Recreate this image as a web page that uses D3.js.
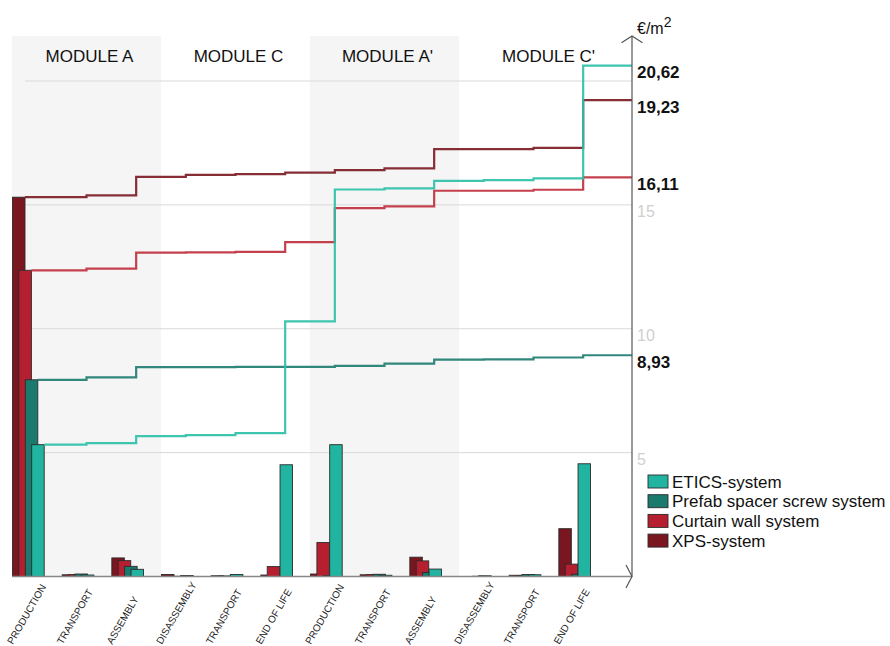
<!DOCTYPE html>
<html><head><meta charset="utf-8">
<script src="https://cdn.jsdelivr.net/npm/d3@7"></script>
<style>body{margin:0;background:#fff} svg{display:block;font-family:"Liberation Sans",Arial,sans-serif}</style>
</head><body><svg id="c" width="890" height="646"></svg>
<script>
const categories = ["PRODUCTION","TRANSPORT","ASSEMBLY","DISASSEMBLY","TRANSPORT","END OF LIFE","PRODUCTION","TRANSPORT","ASSEMBLY","DISASSEMBLY","TRANSPORT","END OF LIFE"];
const modules = ["MODULE A","MODULE C","MODULE A'","MODULE C'"];
const seriesNames = ["XPS-system","Curtain wall system","Prefab spacer screw system","ETICS-system"];
const xpsValues     = [15.31, 0.07, 0.75, 0.08, 0.03, 0.06, 0.10, 0.07, 0.78, 0.00, 0.05, 1.93];
const curtainValues = [12.36, 0.07, 0.64, 0.01, 0.02, 0.40, 1.37, 0.07, 0.63, 0.00, 0.04, 0.50];
const prefabValues  = [7.94, 0.10, 0.41, 0.00, 0.01, 0.00, 0.04, 0.09, 0.16, 0.01, 0.08, 0.09];
const eticsValues   = [5.32, 0.06, 0.29, 0.04, 0.08, 4.51, 5.32, 0.05, 0.30, 0.03, 0.07, 4.55];
const yTickValues = [5, 10, 15];
const gridValues = [5, 10, 15, 20];
const unitLabel = "€/m";

const seriesValues = [xpsValues, curtainValues, prefabValues, eticsValues];
const barColors  = ["#7a1620", "#b61f2f", "#1a7a6e", "#21b5a1"];
const lineColors = ["#7d1b25", "#c0303e", "#1f7d71", "#2cc0a9"];

const svg = d3.select("#c");
const x = d3.scaleBand().domain(d3.range(categories.length)).range([12, 608]).padding(0);
const bw = x.bandwidth();
const y = d3.scaleLinear().domain([0, 20]).range([576.5, 81]);
const axisX = 632, topY = 36;

// module bands
modules.forEach((m, i) => {
  const x0 = x(i * 3);
  const x1 = i === 3 ? axisX : x(i * 3) + 3 * bw;
  if (i % 2 === 0) {
    svg.append("rect").attr("x", x0).attr("y", topY).attr("width", x1 - x0)
      .attr("height", y(0) - topY).attr("fill", "#f5f5f5");
  }
  svg.append("text").attr("x", (x0 + x1) / 2 + 3).attr("y", 62)
    .attr("text-anchor", "middle").attr("font-size", 17).attr("fill", "#111").text(m);
});

// gridlines
svg.selectAll("line.grid").data(gridValues).enter().append("line")
  .attr("x1", 25).attr("x2", axisX).attr("y1", d => y(d)).attr("y2", d => y(d))
  .attr("stroke", "#d9d9d9").attr("stroke-width", 1);
svg.selectAll("text.ytick").data(yTickValues).enter().append("text")
  .attr("x", 637).attr("y", d => y(d) + 12.5).attr("font-size", 16).attr("fill", "#cfcfcf")
  .text(d => d);

// bars
const off = i => 0.5 + i * 6.4;
const barW = 12.5;
seriesValues.forEach((vals, i) => {
  svg.append("g").selectAll("rect").data(vals).enter().append("rect")
    .attr("x", (d, k) => x(k) + off(i)).attr("width", barW)
    .attr("y", d => y(d)).attr("height", d => y(0) - y(d))
    .attr("fill", barColors[i]).attr("stroke", "#2b2b2b").attr("stroke-width", 0.9);
});

// cumulative step lines
const line = d3.line().x(d => d[0]).y(d => y(d[1])).curve(d3.curveStepAfter);
const totals = [];
seriesValues.forEach((vals, i) => {
  const cum = Array.from(d3.cumsum(vals));
  totals.push(cum[cum.length - 1]);
  const pts = [[x(0) + off(i) + barW, cum[0]]];
  for (let k = 1; k < vals.length; k++) pts.push([x(k) + bw / 2, cum[k]]);
  pts.push([axisX, cum[cum.length - 1]]);
  svg.append("path").attr("d", line(pts)).attr("fill", "none")
    .attr("stroke", lineColors[i]).attr("stroke-width", 2.2).attr("stroke-opacity", 0.92);
});

// total labels
totals.forEach(t => {
  svg.append("text").attr("x", 637).attr("y", y(t) + 12.5)
    .attr("font-size", 17).attr("font-weight", "bold").attr("fill", "#111")
    .text(d3.format(".2f")(t).replace(".", ","));
});

// axes
svg.append("line").attr("x1", 12).attr("x2", axisX).attr("y1", y(0)).attr("y2", y(0))
  .attr("stroke", "#888").attr("stroke-width", 1.5);
svg.append("path").attr("d", `M626,565L${axisX},${y(0)}L626,588`).attr("fill", "none")
  .attr("stroke", "#555").attr("stroke-width", 1.2);
svg.append("line").attr("x1", axisX).attr("x2", axisX).attr("y1", topY).attr("y2", y(0))
  .attr("stroke", "#555").attr("stroke-width", 1.2);
svg.append("path").attr("d", `M621.5,42.7L${axisX},${topY}L642.5,42.7`).attr("fill", "none")
  .attr("stroke", "#555").attr("stroke-width", 1.2);
const ut = svg.append("text").attr("x", 637).attr("y", 34).attr("font-size", 16).attr("fill", "#111");
ut.append("tspan").text(unitLabel);
ut.append("tspan").attr("dy", -7).attr("font-size", 14).text("2");

// x labels
svg.selectAll("text.xl").data(categories).enter().append("text")
  .attr("transform", (d, k) => `translate(${x(k) + bw / 2 - 24},645) rotate(-60)`)
  .attr("font-size", 10).attr("fill", "#222").text(d => d);

// legend
const legendOrder = [3, 2, 1, 0];
legendOrder.forEach((si, j) => {
  svg.append("rect").attr("x", 648).attr("y", 475 + j * 19.7).attr("width", 20).attr("height", 13)
    .attr("fill", barColors[si]).attr("stroke", "#2b2b2b").attr("stroke-width", 0.9);
  svg.append("text").attr("x", 672).attr("y", 487.5 + j * 19.7).attr("font-size", 17)
    .attr("fill", "#111").text(seriesNames[si]);
});
</script></body></html>
